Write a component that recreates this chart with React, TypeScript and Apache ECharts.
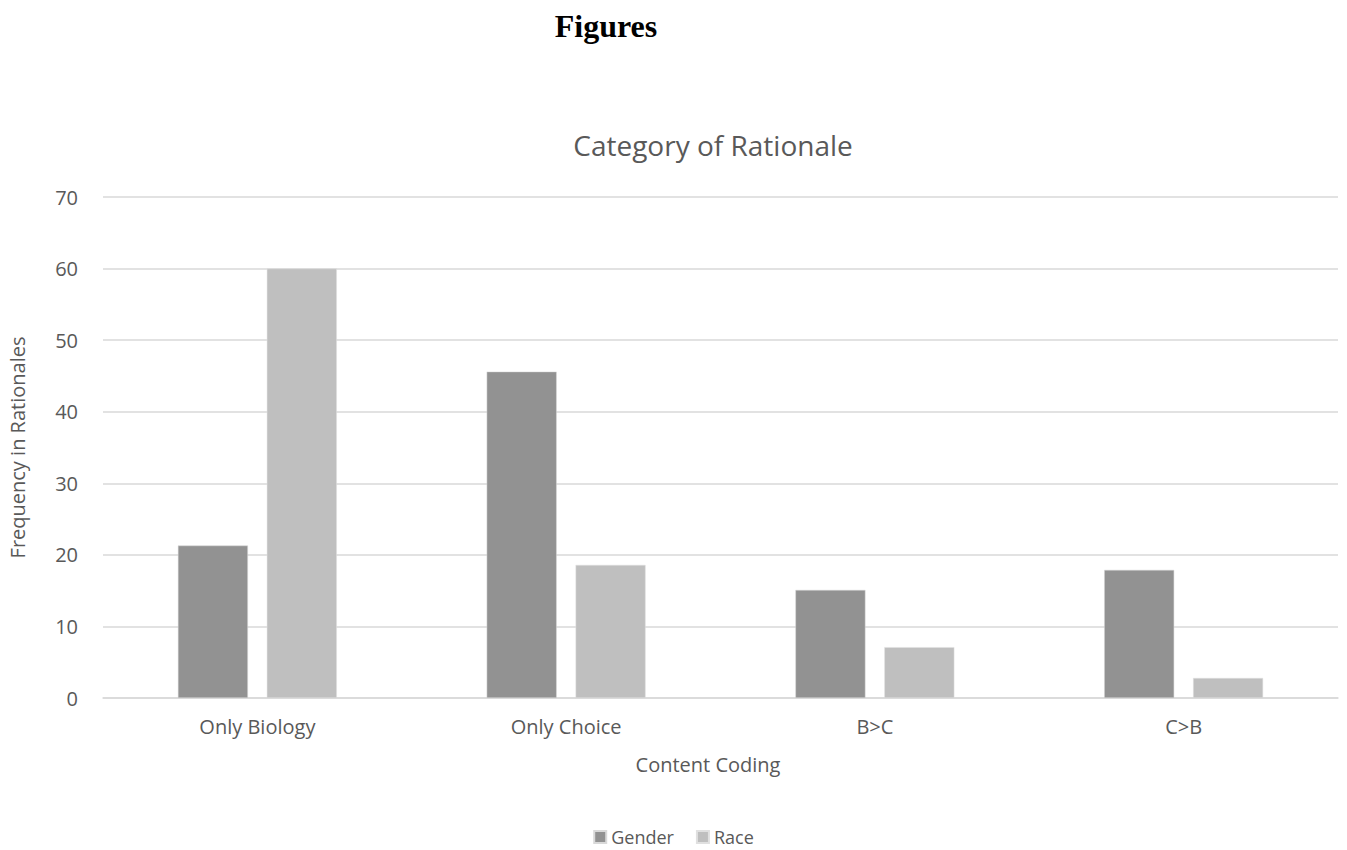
import React, { useEffect, useRef } from "react";
import * as echarts from "echarts";

const categories = ["Only Biology", "Only Choice", "B>C", "C>B"];
const genderValues = [21.3, 45.6, 15.1, 17.9];
const raceValues = [60, 18.6, 7.1, 2.8];
const seriesNames = ["Gender", "Race"];

export default function App() {
  const ref = useRef<HTMLDivElement>(null);
  useEffect(() => {
    if (!ref.current) return;
    const chart = echarts.init(ref.current, null, { renderer: "svg" });
    const font = "'Open Sans', 'Liberation Sans', sans-serif";
    chart.setOption({
      animation: false,
      backgroundColor: "#ffffff",
      graphic: [
        {
          type: "text",
          x: 606,
          y: 26,
          style: {
            text: "Figures",
            font: "bold 32px 'Liberation Serif', 'Times New Roman', serif",
            fill: "#000000",
            align: "center",
            verticalAlign: "middle",
          },
        },
        {
          type: "text",
          x: 708,
          y: 764,
          style: {
            text: "Content Coding",
            font: "20px 'Open Sans', sans-serif",
            fill: "#595959",
            align: "center",
            verticalAlign: "middle",
          },
        },
      ],
      title: {
        text: "Category of Rationale",
        left: 708,
        textAlign: "center",
        top: 126,
        textStyle: { fontFamily: font, fontSize: 28, fontWeight: "normal", color: "#595959" },
      },
      legend: {
        data: seriesNames,
        top: 826,
        left: "center",
        padding: 2,
        itemWidth: 12,
        itemHeight: 12,
        itemGap: 22,
        icon: "rect",
        textStyle: { fontFamily: font, fontSize: 18, color: "#595959" },
      },
      grid: {
        left: 103,
        right: 9,
        top: 197,
        bottom: 152,
        containLabel: false,
        outerBoundsMode: "none",
      },
      xAxis: {
        type: "category",
        data: categories,
        axisLine: { lineStyle: { color: "#d9d9d9", width: 1.5 } },
        axisTick: { show: false },
        axisLabel: { fontFamily: font, fontSize: 20, color: "#595959", margin: 18 },
      },
      yAxis: {
        type: "value",
        min: 0,
        max: 70,
        interval: 10,
        name: "Frequency in Rationales",
        nameLocation: "middle",
        nameGap: 76,
        nameTextStyle: { fontFamily: font, fontSize: 20, color: "#595959" },
        axisLine: { show: false },
        axisTick: { show: false },
        axisLabel: { fontFamily: font, fontSize: 20, color: "#595959", margin: 25 },
        splitLine: { lineStyle: { color: "#d9d9d9", width: 1.5 } },
      },
      series: [
        {
          name: seriesNames[0],
          type: "bar",
          data: genderValues,
          barWidth: 70,
          barGap: "27%",
          itemStyle: { color: "#929292", borderColor: "#d9d9d9", borderWidth: 0.5 },
        },
        {
          name: seriesNames[1],
          type: "bar",
          data: raceValues,
          barWidth: 70,
          barGap: "27%",
          itemStyle: { color: "#bfbfbf", borderColor: "#e0e0e0", borderWidth: 0.5 },
        },
      ],
    });
    return () => chart.dispose();
  }, []);
  return (
    <div
      ref={ref}
      style={{ position: "fixed", left: 0, top: 0, width: 1347, height: 850 }}
    />
  );
}
